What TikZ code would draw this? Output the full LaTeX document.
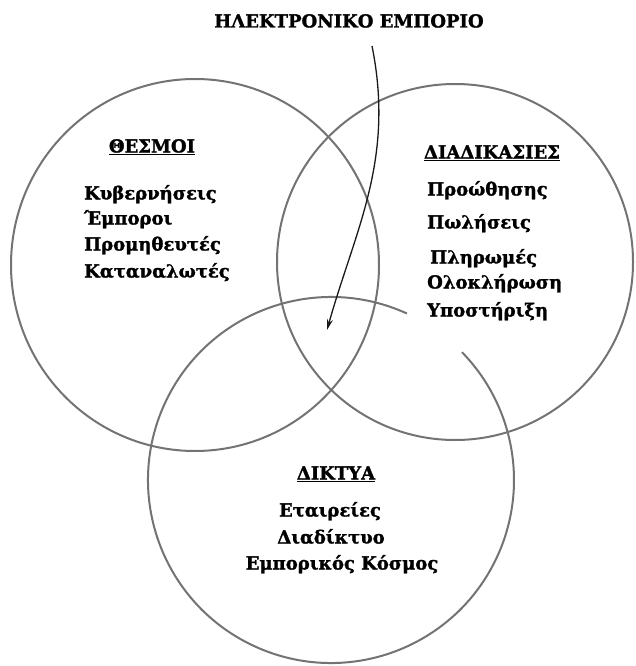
\documentclass[tikz,border=0pt]{standalone}
\usepackage{fontspec}
\setmainfont{DejaVu Serif}[BoldFont={DejaVu Serif Bold}, BoldFeatures={FakeBold=1.5}]
\usetikzlibrary{arrows.meta}
\tikzset{
  ring/.style={draw=black!55, line width=2pt},
  lbl/.style={font=\bfseries\fontsize{18}{21}\selectfont, inner sep=0pt, text height=13pt, text depth=0pt},
  head/.style={lbl},
  item/.style={lbl, anchor=west},
  flow/.style={draw=black!90, line width=1.3pt, -{Stealth[length=11pt,width=6pt]}}
}
\begin{document}
\begin{tikzpicture}[x=1pt,y=1pt]
\useasboundingbox (0,0) rectangle (635,-666);
% circles
\coordinate (L) at (195,-265);
\coordinate (R) at (455,-262);
\coordinate (B) at (331,-480);
\draw[ring] (L) ellipse[x radius=184, y radius=186];
\draw[ring] (R) circle[radius=178];
\draw[ring] (B) ++(65.5:183) arc[start angle=65.5, end angle=404.3, radius=183];
% title and arrow
\node[head] (title) at (349,-21) {ΗΛΕΚΤΡΟΝΙΚΟ ΕΜΠΟΡΙΟ};
\coordinate (astart) at (372,-46);
\coordinate (aend) at (327,-330);
\draw[flow] (astart) .. controls (395,-160) and (355,-230) .. (aend);
% left set
\node[head] (thesmoi) at (152,-146) {\underline{ΘΕΣΜΟΙ}};
\node[item] (l1) at (84,-193) {Κυβερνήσεις};
\node[item] (l2) at (84,-218) {Έμποροι};
\node[item] (l3) at (84,-244) {Προμηθευτές};
\node[item] (l4) at (84,-271) {Καταναλωτές};
% right set
\node[head] (diad) at (492,-152) {\underline{ΔΙΑΔΙΚΑΣΙΕΣ}};
\node[item] (r1) at (427,-189) {Προώθησης};
\node[item] (r2) at (427,-222) {Πωλήσεις};
\node[item] (r3) at (430,-257) {Πληρωμές};
\node[item] (r4) at (427,-282) {Ολοκλήρωση};
\node[item] (r5) at (427,-310) {Υποστήριξη};
% bottom set
\node[head] (diktya) at (336,-473) {\underline{ΔΙΚΤΥΑ}};
\node[lbl] (b1) at (330,-510) {Εταιρείες};
\node[lbl] (b2) at (331,-537) {Διαδίκτυο};
\node[lbl] (b3) at (342,-563) {Εμπορικός Κόσμος};
\end{tikzpicture}
\end{document}
